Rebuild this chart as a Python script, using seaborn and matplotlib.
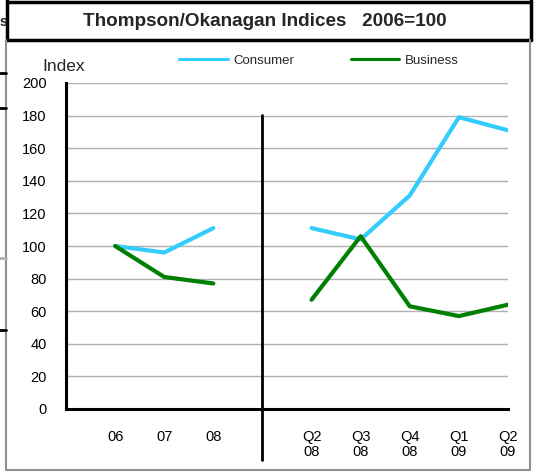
import numpy as np
import pandas as pd
import matplotlib
matplotlib.use("Agg")
import matplotlib.pyplot as plt
import matplotlib.transforms as mtransforms
from matplotlib.lines import Line2D
import seaborn as sns

# ---- data ----
tick_labels = ["06", "07", "08", "", "Q2\n08", "Q3\n08", "Q4\n08", "Q1\n09", "Q2\n09"]
annual_x = [1, 2, 3]
quarter_x = [5, 6, 7, 8, 9]
consumer_annual = [100, 96, 111]
business_annual = [100, 81, 77]
consumer_quarter = [111, 104, 131, 179, 171]
business_quarter = [67, 106, 63, 57, 64]
series_names = ["Consumer", "Business"]
series_colors = ["#33CCFF", "#008000"]

rows = []
for name, ann, qtr in [("Consumer", consumer_annual, consumer_quarter),
                       ("Business", business_annual, business_quarter)]:
    for x, v in zip(annual_x, ann):
        rows.append(dict(x=x, value=v, series=name, segment="annual"))
    for x, v in zip(quarter_x, qtr):
        rows.append(dict(x=x, value=v, series=name, segment="quarter"))
df = pd.DataFrame(rows)

sns.set_style("white")
plt.rcParams["font.family"] = ["Liberation Sans", "DejaVu Sans"]

W, H = 535, 474
fig = plt.figure(figsize=(W / 100, H / 100), dpi=100)

def fx(px):
    return px / W

def fy(py):
    return 1 - py / H

ax = fig.add_axes([fx(66), fy(409), fx(508) - fx(66), fy(83) - fy(409)])

sns.lineplot(data=df, x="x", y="value", hue="series", units="segment",
             estimator=None, hue_order=series_names, palette=series_colors,
             linewidth=3, ax=ax, legend=False)

ax.set_xlim(0, 9)
ax.set_ylim(0, 200)
ax.set_yticks(np.arange(0, 201, 20))
ax.set_xticks(range(1, 10))
ax.set_xticklabels(tick_labels, va="top", linespacing=1.15)
ax.yaxis.grid(True, color="#b0b0b0", linewidth=1)
ax.xaxis.grid(False)
ax.set_xlabel("")
ax.set_ylabel("")
for s in ["top", "right"]:
    ax.spines[s].set_visible(False)
for s in ["left", "bottom"]:
    ax.spines[s].set_color("black")
    ax.spines[s].set_linewidth(2.2)
ax.tick_params(axis="y", direction="in", length=3, width=1.5, labelsize=10.5, pad=14, colors="black")
ax.tick_params(axis="x", direction="in", length=3, width=1.5, labelsize=10.5, pad=15, colors="black")

# separator between annual and quarterly
trans = mtransforms.blended_transform_factory(ax.transData, ax.transAxes)
ax.plot([4, 4], [0.902, -0.156], transform=trans, color="black", linewidth=2, clip_on=False)

# legend
handles = [Line2D([], [], color=c, linewidth=2.2) for c in series_colors]
fig.legend(handles, series_names, loc="center left", bbox_to_anchor=(fx(167), fy(61)),
           ncol=2, frameon=False, fontsize=9.5, handlelength=3.7, handletextpad=0.4,
           columnspacing=4.3)

fig.text(fx(64), fy(67), "Index", fontsize=12.5, ha="center", va="center")

# title box and frame
fig.text(fx(265), fy(21), "Thompson/Okanagan Indices   2006=100", fontsize=13.6,
         fontweight="bold", ha="center", va="center")
k = dict(transform=fig.transFigure, clip_on=False)
fig.add_artist(Line2D([fx(7), fx(531)], [fy(2), fy(2)], color="black", linewidth=2.5, **k))
fig.add_artist(Line2D([fx(7), fx(531)], [fy(40), fy(40)], color="black", linewidth=2.5, **k))
fig.add_artist(Line2D([fx(7), fx(7)], [fy(0), fy(40)], color="black", linewidth=2.5, **k))
fig.add_artist(Line2D([fx(531), fx(531)], [fy(0), fy(40)], color="black", linewidth=2.5, **k))
fig.add_artist(Line2D([fx(6), fx(6)], [fy(40), fy(470)], color="#909090", linewidth=1.5, **k))
fig.add_artist(Line2D([fx(530), fx(530)], [fy(40), fy(470)], color="#909090", linewidth=1.5, **k))
fig.add_artist(Line2D([fx(6), fx(530)], [fy(470), fy(470)], color="#909090", linewidth=1.5, **k))
# left edge fragments
fig.text(fx(0), fy(22), "s", fontsize=10, fontweight="bold", ha="left", va="center")
for yy, col in [(73, "black"), (108, "black"), (258, "#b0b0b0"), (330, "black")]:
    fig.add_artist(Line2D([fx(0), fx(6)], [fy(yy), fy(yy)], color=col, linewidth=2, **k))

fig.savefig("out.png", dpi=100)
